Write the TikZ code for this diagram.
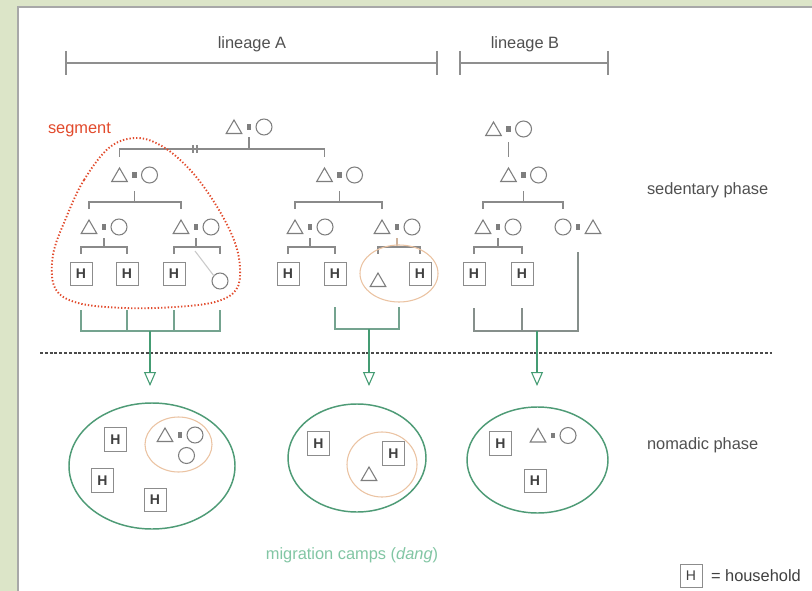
\documentclass[tikz,border=0pt]{standalone}
\usepackage{fontspec}
\setmainfont{Liberation Sans}
\usetikzlibrary{shapes.geometric,arrows.meta,calc}
\definecolor{bggreen}{HTML}{DCE5C8}
\definecolor{panelc}{HTML}{A8A8A8}
\definecolor{kinc}{HTML}{8A8A8A}
\definecolor{symc}{HTML}{7E7E7E}
\definecolor{txtc}{HTML}{505050}
\definecolor{segc}{HTML}{E24A2C}
\definecolor{orangec}{HTML}{EBC3A2}
\definecolor{campc}{HTML}{4E9B76}
\definecolor{grnc}{HTML}{74A38F}
\definecolor{arrc}{HTML}{449C73}
\definecolor{migc}{HTML}{82C6A4}
\definecolor{boxc}{HTML}{8C8C8C}
\definecolor{hc}{HTML}{404040}
\definecolor{sepc}{HTML}{4A4A4A}
\definecolor{linc}{HTML}{8F8F8F}
\newcommand\cpl[3]{%
  \node[tri] (#1t) at ({#2-15},{#3+2}) {};
  \node[eqs] (#1) at (#2,#3) {};
  \node[cir] (#1c) at ({#2+15},#3) {};}
\newcommand\rcpl[3]{%
  \node[cir] (#1c) at ({#2-15},#3) {};
  \node[eqs] (#1) at (#2,#3) {};
  \node[tri] (#1t) at ({#2+15},{#3+2}) {};}
\begin{document}
\begin{tikzpicture}[x=0.75pt,y=-0.75pt,
  every node/.style={outer sep=0pt},
  kin/.style={draw=kinc, line width=0.9pt},
  tri/.style={regular polygon, regular polygon sides=3, minimum size=13.5pt, inner sep=0pt, draw=symc, line width=0.8pt},
  cir/.style={circle, minimum size=12pt, inner sep=0pt, draw=symc, line width=0.8pt},
  eqs/.style={rectangle, minimum width=3.4pt, minimum height=3.8pt, inner sep=0pt, fill=symc},
  hh/.style={rectangle, draw=boxc, line width=0.75pt, minimum width=16.5pt, minimum height=17.5pt, inner sep=0pt, font=\fontsize{10.5pt}{12pt}\selectfont\bfseries, text=hc},
  lbl/.style={font=\fontsize{12.3pt}{14pt}\selectfont, text=txtc, inner sep=0pt},
  oell/.style={ellipse, draw=orangec, line width=0.8pt, inner sep=0pt},
  camp/.style={ellipse, draw=campc, line width=1.1pt, inner sep=0pt},
  grn/.style={draw=grnc, line width=1pt},
  arr/.style={draw=arrc, line width=1.3pt, -{Triangle[open, width=9pt, length=10.5pt, line width=0.8pt]}},
  sep/.style={draw=sepc, line width=1.1pt, dash pattern=on 2.2pt off 1.4pt},
  lin/.style={draw=linc, line width=0.9pt},
  seg/.style={draw=segc, line width=1.4pt, dash pattern=on 1pt off 1.5pt}
]
\useasboundingbox (0,0) rectangle (812,591);
\fill[bggreen] (0,0) rectangle (812,591);
\fill[white] (18,7) rectangle (812,591);
\draw[panelc, line width=0.8pt] (18,591) -- (18,7) -- (812,7);

% lineages
\draw[lin] (66,63) -- (437,63);
\draw[lin] (66,51) -- (66,75);
\draw[lin] (437,51) -- (437,75);
\draw[lin] (460,63) -- (608,63);
\draw[lin] (460,51) -- (460,75);
\draw[lin] (608,51) -- (608,75);
\node[lbl] (linA) at (252,44) {lineage A};
\node[lbl] (linB) at (525,44) {lineage B};

% couples
\cpl{a0}{249}{127}
\cpl{a1}{134.5}{175}
\cpl{a2}{339.5}{175}
\cpl{a11}{104}{227}
\cpl{a12}{196}{227}
\cpl{a21}{310}{227}
\cpl{a22}{397}{227}
\cpl{b0}{508.5}{129}
\cpl{b1}{523.5}{175}
\cpl{b11}{498}{227}
\rcpl{b12}{578}{227}

% households
\node[hh] (h1) at (81,274) {H};
\node[hh] (h2) at (127,274) {H};
\node[hh] (h3) at (174,274) {H};
\node[cir] (c1) at (220,281) {};
\node[hh] (h4) at (288,274) {H};
\node[hh] (h5) at (335,274) {H};
\node[tri] (t1) at (378,282) {};
\node[hh] (h6) at (420,274) {H};
\node[hh] (h7) at (474,274) {H};
\node[hh] (h8) at (522,274) {H};

% joints
\coordinate (j0) at (249,149);
\path (a1) ++(0,27) coordinate (j1);
\path (a2) ++(0,27) coordinate (j2);
\path (b1) ++(0,27) coordinate (jb1);
\path (a11) ++(0,20) coordinate (j11);
\path (a12) ++(0,20) coordinate (j12);
\path (a21) ++(0,20) coordinate (j21);
\path (a22) ++(0,20) coordinate (j22);
\path (b11) ++(0,20) coordinate (jb11);

% kinship lines
\draw[kin, shorten <=5.8pt] (a0.south) -- (j0);
\draw[kin, shorten <=8.5pt, shorten >=8.5pt] (a1t.north) |- (j0) -| (a2t.north);
\draw[kin] (193,145) -- (193,153) (197,145) -- (197,153);
\draw[kin, shorten <=10.3pt] (a1.south) -- (j1);
\draw[kin, shorten <=8.5pt, shorten >=8.5pt] (a11t.north) |- (j1) -| (a12t.north);
\draw[kin, shorten <=10.3pt] (a2.south) -- (j2);
\draw[kin, shorten <=8.5pt, shorten >=8.5pt] (a21t.north) |- (j2) -| (a22t.north);
\draw[kin, shorten <=8pt, shorten >=8.5pt] (b0.south) -- (b1t.north);
\draw[kin, shorten <=10.3pt] (b1.south) -- (jb1);
\draw[kin, shorten <=8.5pt, shorten >=7.5pt] (b11t.north) |- (jb1) -| (b12c.north);
\draw[kin, shorten <=6.5pt] (a11.south) -- (j11);
\draw[kin, shorten <=6.5pt, shorten >=6.5pt] (h1.north) |- (j11) -| (h2.north);
\draw[kin, shorten <=6.5pt] (a12.south) -- (j12);
\draw[kin, shorten <=6.5pt, shorten >=14.25pt] (h3.north) |- (j12) -| (c1.north);
\draw[kin, shorten <=6.5pt] (a21.south) -- (j21);
\draw[kin, shorten <=6.5pt, shorten >=6.5pt] (h4.north) |- (j21) -| (h5.north);
\draw[kin, draw=orangec!70!kinc, shorten <=6.5pt] (a22.south) -- (j22);
\draw[kin, shorten <=14.5pt, shorten >=6.5pt] (t1.north) |- (j22) -| (h6.north);
\draw[kin, shorten <=6.5pt] (b11.south) -- (jb11);
\draw[kin, shorten <=6.5pt, shorten >=6.5pt] (h7.north) |- (jb11) -| (h8.north);
\draw[draw=kinc!45, line width=0.8pt] (195,251) -- (214,276);

% orange group in sedentary phase
\node[oell, minimum width=58.5pt, minimum height=42.75pt] (e1) at (399,273.5) {};

% segment
\node[lbl, text=segc, anchor=west] (segl) at (48,130) {segment};
\draw[seg] plot[smooth cycle, tension=0.6] coordinates {
  (110,147) (84,180) (66,218) (53,255) (55,288) (78,303) (125,308) (175,307)
  (215,302) (236,290) (240,268) (234,240) (216,205) (192,172) (165,148) (138,138)};

% phase labels
\node[lbl, anchor=west] (sed) at (647,190) {sedentary phase};
\node[lbl, anchor=west] (nom) at (647,445) {nomadic phase};

% separator
\draw[sep] (40,353) -- (772,353);

% camps
\node[camp, minimum width=124.5pt, minimum height=94.5pt] (campA) at (152,466) {};
\node[camp, minimum width=103.5pt, minimum height=81pt] (campA2) at (357,458) {};
\node[camp, minimum width=105.75pt, minimum height=79.5pt] (campB) at (537.5,460) {};

% green connectors
\coordinate (ga) at (150,331);
\coordinate (gb) at (369,329);
\coordinate (gc) at (537,331);
\draw[grn, shorten <=18.5pt] (h1.south) |- (ga);
\draw[grn, shorten <=18.5pt] (h2.south) |- (ga);
\draw[grn, shorten <=18.5pt] (h3.south) |- (ga);
\draw[grn, shorten <=15.75pt] (c1.south) |- (ga);
\draw[grn, shorten <=16.3pt] (h5.south) |- (gb);
\draw[grn, shorten <=3.75pt] (e1.south) |- (gb);
\draw[grn, draw=kinc!80!grnc, shorten <=17pt] (h7.south) |- (gc);
\draw[grn, draw=kinc!80!grnc, shorten <=17pt] (h8.south) |- (gc);
\draw[grn, draw=kinc!80!grnc, shorten <=17pt] (b12.south) |- (gc);
\draw[arr, shorten >=12.75pt] (ga) -- (ga |- campA.north);
\draw[arr, shorten >=13.5pt] (gb) -- (gb |- campA2.north);
\draw[arr, shorten >=15.75pt] (gc) -- (gc |- campB.north);

% camp A contents
\node[oell, minimum width=50.25pt, minimum height=41.25pt] (e2) at (178.5,444.5) {};
\node[hh] (ca1) at (115.5,439.5) {H};
\node[hh] (ca2) at (102.5,480.5) {H};
\node[hh] (ca3) at (155,500) {H};
\cpl{ca}{180}{435}
\node[cir] (cac) at (186.5,455.5) {};

% camp A2 contents
\node[oell, minimum width=52.5pt, minimum height=48.75pt] (e3) at (382,464.5) {};
\node[hh] (cb1) at (318.5,443.5) {H};
\node[hh] (cb2) at (393.5,453.5) {H};
\node[tri] (cbt) at (369,476) {};

% camp B contents
\node[hh] (cc1) at (500.5,443.5) {H};
\cpl{cc}{553}{435.5}
\node[hh] (cc2) at (535,481) {H};

% caption and legend
\node[lbl, text=migc] (mig) at (352,555) {migration camps (\textit{dang})};
\node[hh, font=\fontsize{10.5pt}{12pt}\selectfont] (lh) at (691,576) {H};
\node[lbl, anchor=west, text=black!75] (lt) at (711,576) {= household};
\end{tikzpicture}
\end{document}
